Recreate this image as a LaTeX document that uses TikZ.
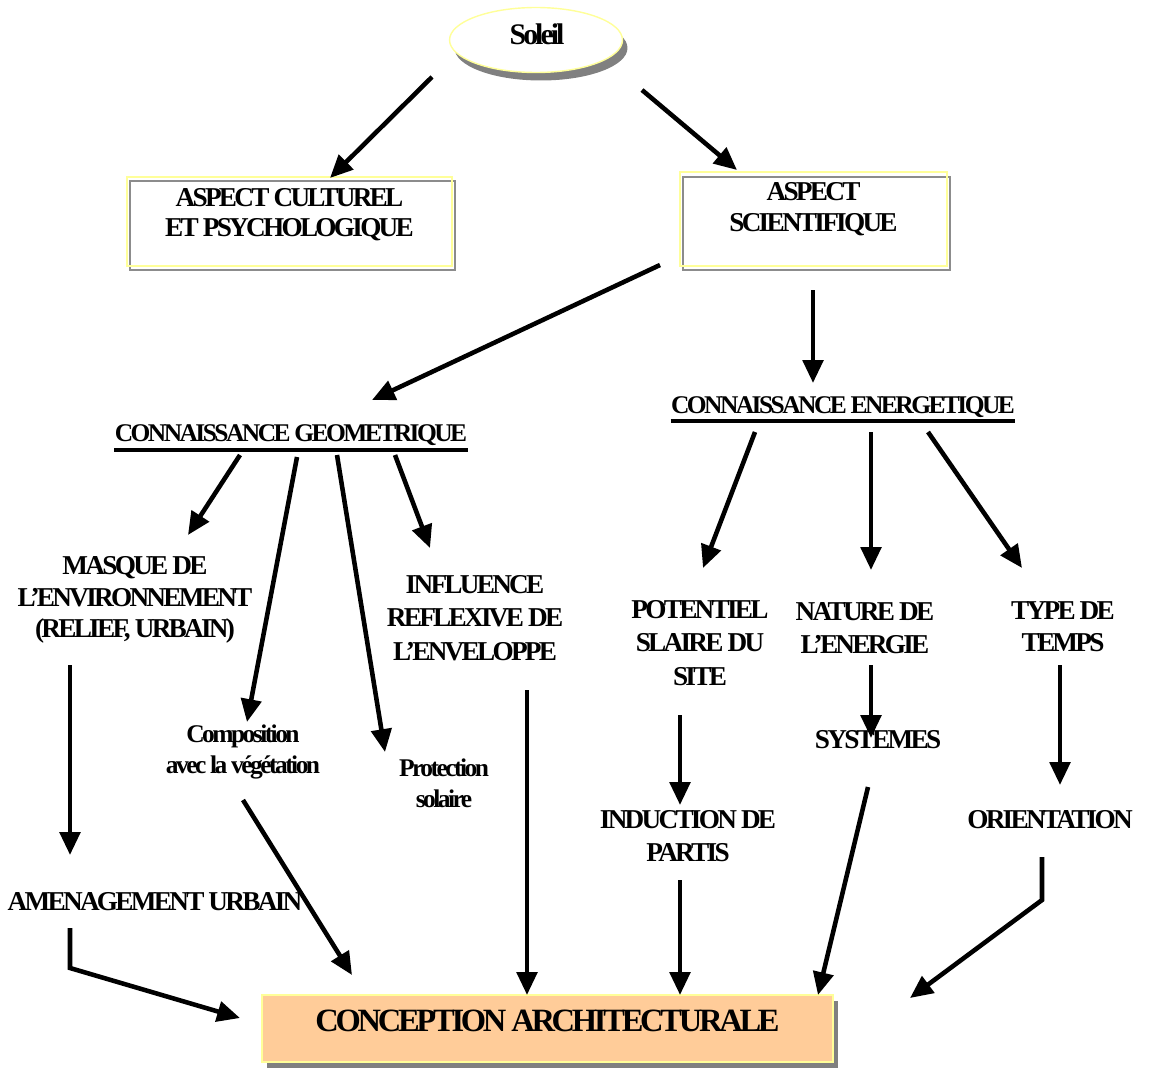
\documentclass[tikz,border=0pt]{standalone}
\usepackage{fontspec}
\newfontfamily\squeezed[LetterSpace=-10]{Liberation Serif}
\usepackage{xcolor}
\usepackage{tikz}
\usetikzlibrary{shapes,arrows.meta,positioning}

\definecolor{peach}{RGB}{255,204,153}
\definecolor{paleyellow}{RGB}{255,255,153}
\definecolor{shadowgray}{RGB}{128,128,128}
\definecolor{boxgray}{RGB}{140,140,140}

\tikzset{
    lbl/.style={font=\squeezed\bfseries\fontsize{15.5}{18}\selectfont, align=center, inner sep=0pt},
    talllbl/.style={lbl, font=\squeezed\bfseries\fontsize{15.5}{19}\selectfont},
    smalllbl/.style={lbl, font=\squeezed\bfseries\fontsize{14.5}{17.5}\selectfont},
    headlbl/.style={lbl, font=\squeezed\bfseries\fontsize{14.5}{18}\selectfont},
    arr/.style={line width=2.6pt, -{Triangle[length=13pt,width=11.5pt]}},
    uline/.style={line width=1.8pt},
    graybox/.style={line width=1.2pt, draw=boxgray},
    yellowbox/.style={line width=0.8pt, draw=paleyellow}
}

\begin{document}
\begin{tikzpicture}[x=0.02cm, y=-0.02cm]
    \useasboundingbox (0,0) rectangle (1155,1068);

    % soleil
    \fill[shadowgray] (541,48) ellipse [x radius=1.73cm, y radius=0.65cm];
    \draw[yellowbox, fill=white] (536,40) ellipse [x radius=1.73cm, y radius=0.65cm];
    \node[lbl, font=\squeezed\bfseries\fontsize{17}{20}\selectfont] (soleil) at (537,34) {Soleil};

    % the two aspects
    \draw[graybox] (130,181) rectangle (455,270);
    \draw[yellowbox] (127,177) rectangle (452,266)
        node[pos=.5, lbl, font=\squeezed\bfseries\fontsize{15.5}{17}\selectfont, yshift=0.13cm] (culturel)
        {ASPECT CULTUREL\\ET PSYCHOLOGIQUE};

    \draw[graybox] (683,177) rectangle (950,270);
    \draw[yellowbox] (680,172) rectangle (947,266)
        node[pos=.5, lbl, yshift=0.2cm] (scient)
        {ASPECT\\SCIENTIFIQUE};

    % connaissances
    \node[headlbl, anchor=base] (geo) at (291,441) {CONNAISSANCE GEOMETRIQUE};
    \draw[uline] ([shift={(0,9)}]geo.base west) -- ([shift={(0,9)}]geo.base east);

    \node[headlbl, anchor=base] (ener) at (843,413) {CONNAISSANCE ENERGETIQUE};
    \draw[uline] ([shift={(0,8)}]ener.base west) -- ([shift={(0,8)}]ener.base east);

    % geometric side
    \node[lbl] (masque) at (135,600) {MASQUE DE\\L’ENVIRONNEMENT\\(RELIEF, URBAIN)};
    \node[talllbl] (influ) at (475,618) {INFLUENCE\\REFLEXIVE DE\\L’ENVELOPPE};
    \node[smalllbl] (compo) at (243,752) {Composition\\avec la végétation};
    \node[smalllbl] (protec) at (444,783) {Protection\\solaire};
    \node[lbl] (amenag) at (155,902) {AMENAGEMENT URBAIN};

    % energetic side
    \node[talllbl] (potent) at (700,643) {POTENTIEL\\SLAIRE DU\\SITE};
    \node[talllbl] (nature) at (865,628) {NATURE DE\\L’ENERGIE};
    \node[lbl] (typet) at (1063,627) {TYPE DE\\TEMPS};
    \node[lbl] (systemes) at (878,740) {SYSTEMES};
    \node[lbl] (orient) at (1050,820) {ORIENTATION};
    \node[talllbl] (induct) at (688,836) {INDUCTION DE\\PARTIS};

    % conception
    \fill[shadowgray] (267,1001) rectangle (838,1068);
    \draw[yellowbox, fill=peach] (262,995) rectangle (833,1062)
        node[pos=.5, lbl, font=\squeezed\bfseries\fontsize{18.5}{22}\selectfont, yshift=0.16cm] (concep)
        {CONCEPTION ARCHITECTURALE};

    % arrow ends
    \coordinate (sol-l) at (432,77);    \coordinate (cult-t) at (330,178);
    \coordinate (sol-r) at (642,90);    \coordinate (sci-t) at (737,170);
    \coordinate (sci-bl) at (660,265);  \coordinate (geo-t) at (372,400);
    \coordinate (sci-b) at (813,290);   \coordinate (ener-t) at (813,383);
    \coordinate (geo-b1) at (240,455);  \coordinate (masq-t) at (188,535);
    \coordinate (geo-b2) at (297,457);  \coordinate (comp-t) at (247,722);
    \coordinate (geo-b3) at (337,455);  \coordinate (prot-t) at (385,752);
    \coordinate (geo-b4) at (395,455);  \coordinate (infl-t) at (430,548);
    \coordinate (masq-b) at (70,665);   \coordinate (amen-t) at (70,855);
    \coordinate (amen-b) at (70,928);   \coordinate (amen-k) at (70,968);
    \coordinate (conc-l) at (240,1018);
    \coordinate (comp-b) at (243,800);  \coordinate (conc-tl) at (352,975);
    \coordinate (infl-b) at (527,690);  \coordinate (conc-t1) at (527,995);
    \coordinate (ener-b1) at (755,432); \coordinate (pot-t) at (703,568);
    \coordinate (ener-b2) at (871,432); \coordinate (nat-t) at (871,570);
    \coordinate (ener-b3) at (928,432); \coordinate (type-t) at (1022,568);
    \coordinate (nat-b) at (871,665);   \coordinate (sys-t) at (871,738);
    \coordinate (type-b) at (1060,665); \coordinate (ori-t) at (1060,785);
    \coordinate (pot-b) at (680,715);   \coordinate (ind-t) at (680,805);
    \coordinate (ind-b) at (680,880);   \coordinate (conc-t2) at (680,995);
    \coordinate (sys-b) at (868,787);   \coordinate (conc-t3) at (818,995);
    \coordinate (ori-b) at (1042,857);  \coordinate (ori-k) at (1042,900);
    \coordinate (conc-r) at (910,998);

    % arrows
    \draw[arr] (sol-l) -- (cult-t);
    \draw[arr] (sol-r) -- (sci-t);
    \draw[arr] (sci-bl) -- (geo-t);
    \draw[arr] (sci-b) -- (ener-t);
    \draw[arr] (geo-b1) -- (masq-t);
    \draw[arr] (geo-b2) -- (comp-t);
    \draw[arr] (geo-b3) -- (prot-t);
    \draw[arr] (geo-b4) -- (infl-t);
    \draw[arr] (masq-b) -- (amen-t);
    \draw[arr] (amen-b) -- (amen-k) -- (conc-l);
    \draw[arr] (comp-b) -- (conc-tl);
    \draw[arr] (infl-b) -- (conc-t1);
    \draw[arr] (ener-b1) -- (pot-t);
    \draw[arr] (ener-b2) -- (nat-t);
    \draw[arr] (ener-b3) -- (type-t);
    \draw[arr] (nat-b) -- (sys-t);
    \draw[arr] (type-b) -- (ori-t);
    \draw[arr] (pot-b) -- (ind-t);
    \draw[arr] (ind-b) -- (conc-t2);
    \draw[arr] (sys-b) -- (conc-t3);
    \draw[arr] (ori-b) -- (ori-k) -- (conc-r);
\end{tikzpicture}
\end{document}
